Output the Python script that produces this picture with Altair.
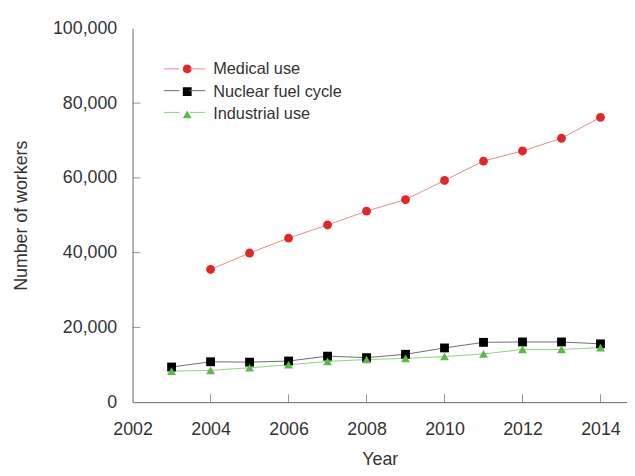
import altair as alt
import pandas as pd

years = list(range(2003, 2015))
medical = [None, 35500, 39900, 43900, 47400, 51100, 54200, 59300, 64500, 67200, 70600, 76200]
nuclear = [9400, 10800, 10700, 11000, 12300, 11900, 12800, 14500, 16000, 16100, 16100, 15600]
industrial = [8300, 8500, 9200, 10000, 10900, 11400, 11700, 12200, 12900, 14100, 14100, 14600]

series = ["Medical use", "Nuclear fuel cycle", "Industrial use"]
marker_colors = ["#e52629", "#000000", "#5bb94a"]
line_colors = ["#eb8a8a", "#6e6e6e", "#8fd27f"]
shapes = ["circle", "square", "triangle-up"]

x_ticks = [2004, 2006, 2008, 2010, 2012, 2014]
y_ticks = [20000, 40000, 60000, 80000]

rows = []
for name, vals in zip(series, [medical, nuclear, industrial]):
    for yr, v in zip(years, vals):
        if v is not None:
            rows.append({"Year": yr, "Workers": v, "Series": name})
df = pd.DataFrame(rows)
df["LineSeries"] = df["Series"]

W, H = 500, 378
FONT = "Liberation Sans"
TXT = "#333333"
AX = "#666666"
FS = 18

xscale = alt.Scale(domain=[2002, 2014.68], nice=False, zero=False)
yscale = alt.Scale(domain=[0, 100000], nice=False)

xaxis = alt.Axis(values=[2002] + x_ticks, format="d", tickSize=0, labelPadding=19,
                 labelFontSize=FS, labelColor=TXT, labelFont=FONT, title="Year",
                 titleFontSize=FS, titleFont=FONT, titleColor=TXT, titleFontWeight="normal",
                 titlePadding=12, domainColor=AX, grid=False, labelFlush=False)
yaxis = alt.Axis(values=[0] + y_ticks + [100000], format=",d", tickSize=0, labelPadding=16,
                 labelFontSize=FS, labelColor=TXT, labelFont=FONT, title="Number of workers",
                 titleFontSize=FS, titleFont=FONT, titleColor=TXT, titleFontWeight="normal",
                 titlePadding=22, domainColor=AX, grid=False)

lines = alt.Chart(df).mark_line(strokeWidth=1).encode(
    x=alt.X("Year:Q", scale=xscale, axis=xaxis),
    y=alt.Y("Workers:Q", scale=yscale, axis=yaxis),
    stroke=alt.Stroke("LineSeries:N", sort=series,
                      scale=alt.Scale(domain=series, range=line_colors),
                      legend=alt.Legend(title=None, orient="none", legendX=31, legendY=33,
                                        symbolType="stroke", symbolSize=1764,
                                        symbolDash=[16, 10, 16], symbolStrokeWidth=1,
                                        labelExpr="''", labelFontSize=16, rowPadding=6,
                                        clipHeight=16, symbolLimit=0)),
    detail="Series:N",
)

pt_legend = alt.Legend(title=None, orient="none", legendX=47, legendY=33,
                       labelFontSize=16.5, labelColor=TXT, labelFont=FONT,
                       labelOffset=18, rowPadding=6, clipHeight=16, symbolSize=80,
                       symbolStrokeWidth=0)

points = alt.Chart(df).mark_point(filled=True, size=80, opacity=1).encode(
    x=alt.X("Year:Q", scale=xscale),
    y=alt.Y("Workers:Q", scale=yscale),
    fill=alt.Fill("Series:N", sort=series,
                  scale=alt.Scale(domain=series, range=marker_colors), legend=pt_legend),
    shape=alt.Shape("Series:N", sort=series,
                    scale=alt.Scale(domain=series, range=shapes), legend=pt_legend),
    order=alt.Order("order:Q"),
).transform_calculate(order="indexof(['Medical use','Nuclear fuel cycle','Industrial use'], datum.Series)")

xt = alt.Chart(pd.DataFrame({"t": x_ticks})).mark_tick(color=AX, thickness=1, size=8).encode(
    x=alt.X("t:Q", scale=xscale), y=alt.value(H - 4))
yt = alt.Chart(pd.DataFrame({"t": y_ticks})).mark_tick(color=AX, thickness=1, size=8, orient="horizontal").encode(
    y=alt.Y("t:Q", scale=yscale), x=alt.value(4))

chart = alt.layer(lines, xt, yt, points).resolve_legend(stroke="independent").properties(
    width=W, height=H,
    autosize=alt.AutoSizeParams(type="none"),
    padding={"left": 126, "top": 18, "right": 0, "bottom": 64},
).configure_view(stroke=None).configure_legend(symbolStrokeColor=None)

chart.save("out.html", embed_options={"renderer": "svg", "actions": False})
